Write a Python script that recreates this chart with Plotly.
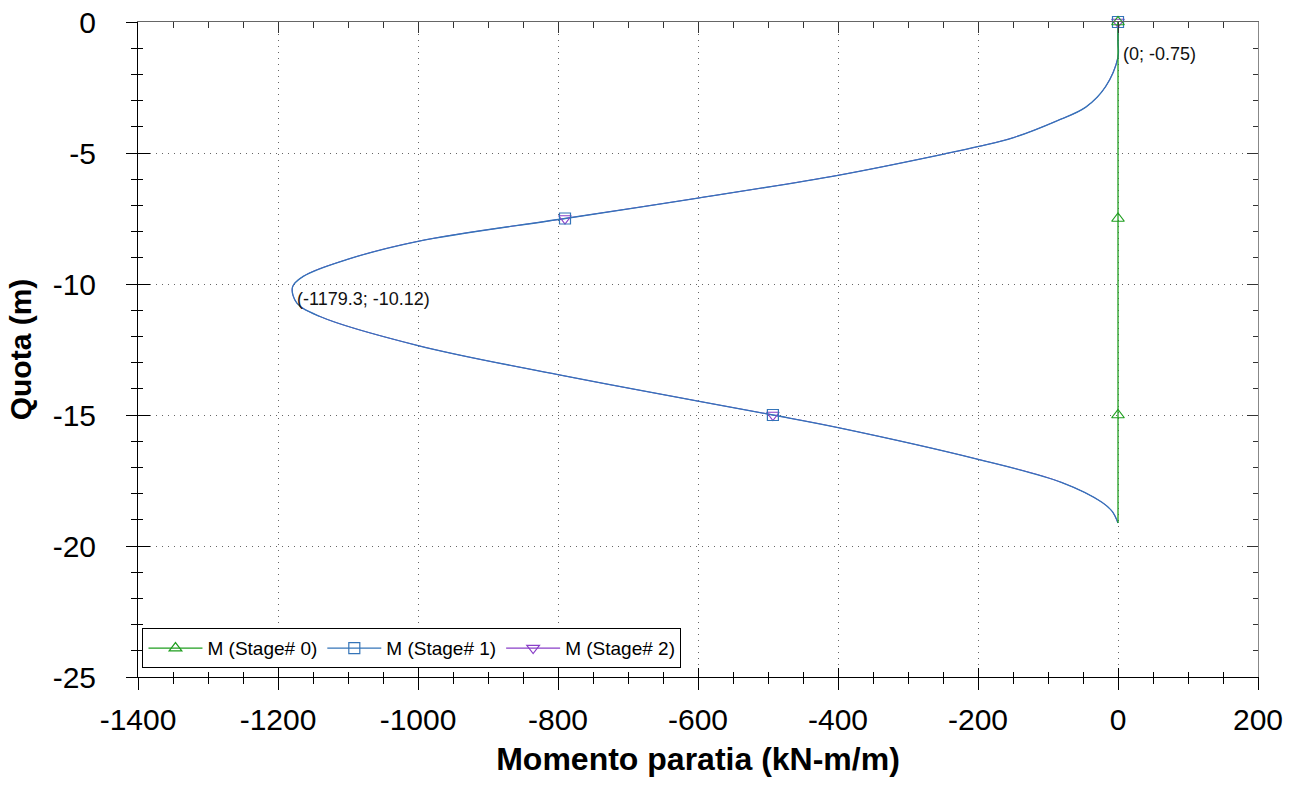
import plotly.graph_objects as go

# ---- data ----
stage0_z = [0, -7.5, -15, -19.12]
stage0_m = [0, 0, 0, 0]

stage1_z = [0, -0.75, -1.34, -2.48, -3.25, -3.78, -4.40, -4.75, -5.03, -5.85, -6.72,
            -7.5, -8.37, -9.07, -9.71, -10.12, -10.73, -11.24, -12.35, -13.46, -14.47,
            -15.0, -15.48, -16.69, -17.57, -18.33, -18.69, -19.12]
stage1_m = [0, 0, 0, -18, -46, -88, -148, -199, -247, -400, -600,
            -790, -1000, -1102, -1164, -1179.3, -1173, -1140, -1000, -800, -600,
            -493, -400, -200, -81, -23, -8, 0]
stage2_z = list(stage1_z)
stage2_m = list(stage1_m)

# depths at which the series markers are drawn
marker_depths = [0, -7.5, -15]
stage0_marker_m = [0, 0, 0]
stage1_marker_m = [0, -790, -493]
stage2_marker_m = [0, -790, -493]

series_names = ["M (Stage# 0)", "M (Stage# 1)", "M (Stage# 2)"]
annot_points = [(0, -0.75), (-1179.3, -10.12)]
annot_texts = ["(0; -0.75)", "(-1179.3; -10.12)"]

x_ticks = [-1400, -1200, -1000, -800, -600, -400, -200, 0, 200]
x_ticktext = ["-1400", "-1200", "-1000", "-800", "-600", "-400", "-200", "0", "200"]
y_ticks = [0, -5, -10, -15, -20, -25]
y_ticktext = ["0", "-5", "-10", "-15", "-20", "-25"]

x_range = [-1400, 200]
y_range = [-25, 0]

FONT = "Liberation Sans, Arial, sans-serif"
GREEN = "#1f9e1f"
BLUE = "#3474b8"
PURPLE = "#8a3fc8"
MS = 11
LW = 1.3

styles = [
    dict(color=GREEN, symbol="triangle-up-open"),
    dict(color=BLUE, symbol="square-open"),
    dict(color=PURPLE, symbol="triangle-down-open"),
]
lines = [(stage0_m, stage0_z), (stage1_m, stage1_z), (stage2_m, stage2_z)]
marks = [stage0_marker_m, stage1_marker_m, stage2_marker_m]

fig = go.Figure()
# draw order: stage 2 under stage 1 under stage 0
for i in [2, 1, 0]:
    st = styles[i]
    mx, mz = lines[i]
    fig.add_trace(go.Scatter(x=mx, y=mz, mode="lines", showlegend=False, hoverinfo="skip",
                             line=dict(color=st["color"], width=LW if i < 2 else 1.0,
                                       shape="spline" if i > 0 else "linear", smoothing=1.0)))
for i in [2, 1, 0]:
    st = styles[i]
    fig.add_trace(go.Scatter(x=marks[i], y=marker_depths, mode="markers", showlegend=False,
                             cliponaxis=False,
                             marker=dict(symbol=st["symbol"], size=MS, color=st["color"],
                                         line=dict(width=1.2, color=st["color"]))))
# legend entries
for i in [0, 1, 2]:
    st = styles[i]
    fig.add_trace(go.Scatter(x=[None], y=[None], mode="lines+markers", name=series_names[i],
                             line=dict(color=st["color"], width=LW),
                             marker=dict(symbol=st["symbol"], size=MS, color=st["color"],
                                         line=dict(width=1.2, color=st["color"]))))
# anchors for the extra tick axes (no data)
for xa, ya in [("x2", "y"), ("x3", "y"), ("x", "y2"), ("x", "y3")]:
    fig.add_trace(go.Scatter(x=[None], y=[None], xaxis=xa, yaxis=ya, showlegend=False,
                             mode="lines", hoverinfo="skip"))

for (ax, ay), t in zip(annot_points, annot_texts):
    fig.add_annotation(x=ax, y=ay, text=t, showarrow=False, xanchor="left", yanchor="top",
                       xshift=3, font=dict(family=FONT, size=18, color="#111"))

tickfont = dict(family=FONT, size=30, color="black")
common_x = dict(range=x_range, tickvals=x_ticks, ticktext=x_ticktext, zeroline=False, automargin=False)
common_y = dict(range=y_range, tickvals=y_ticks, ticktext=y_ticktext, zeroline=False, automargin=False)
GRID = dict(showgrid=True, gridcolor="#666", griddash="1px,5px", gridwidth=1)

fig.update_layout(
    width=1298, height=787,
    margin=dict(l=138, r=40, t=22, b=110),
    paper_bgcolor="white", plot_bgcolor="white",
    showlegend=True,
    legend=dict(orientation="h", x=0.004, y=0.044, xanchor="left", yanchor="middle",
                bordercolor="black", borderwidth=1, bgcolor="white",
                font=dict(family=FONT, size=19, color="black"),
                traceorder="normal", itemwidth=54, tracegroupgap=0),
    xaxis=dict(**common_x, **GRID,
               showline=True, linecolor="black", linewidth=1,
               ticks="outside", ticklen=12, tickcolor="black", tickwidth=1,
               minor=dict(dtick=50, tick0=0, ticks="outside", ticklen=6, tickcolor="black", showgrid=False),
               tickfont=tickfont, ticklabelstandoff=4,
               title=dict(text="<b>Momento paratia (kN-m/m)</b>", font=dict(family=FONT, size=32, color="black"), standoff=12)),
    yaxis=dict(**common_y, **GRID,
               showline=True, linecolor="black", linewidth=1,
               ticks="outside", ticklen=11, tickcolor="black", tickwidth=1,
               minor=dict(dtick=1, tick0=0, ticks="outside", ticklen=6, tickcolor="black", showgrid=False),
               tickfont=tickfont, ticklabelstandoff=24,
               title=dict(text="<b>Quota (m)</b>", font=dict(family=FONT, size=30, color="black"), standoff=12)),
    xaxis2=dict(**common_x, overlaying="x", side="bottom", anchor="y", showgrid=False, showticklabels=False,
                showline=False, ticks="inside", ticklen=9, tickcolor="black",
                minor=dict(dtick=50, tick0=0, ticks="inside", ticklen=5, tickcolor="black", showgrid=False)),
    xaxis3=dict(**common_x, overlaying="x", side="top", anchor="y", showgrid=False, showticklabels=False,
                showline=True, linecolor="#666", ticks="inside", ticklen=11, tickcolor="#333",
                minor=dict(dtick=50, tick0=0, ticks="inside", ticklen=6, tickcolor="#333", showgrid=False)),
    yaxis2=dict(**common_y, overlaying="y", side="left", anchor="x", showgrid=False, showticklabels=False,
                showline=False, ticks="inside", ticklen=12, tickcolor="black",
                minor=dict(dtick=1, tick0=0, ticks="inside", ticklen=5, tickcolor="black", showgrid=False)),
    yaxis3=dict(**common_y, overlaying="y", side="right", anchor="x", showgrid=False, showticklabels=False,
                showline=True, linecolor="#888", ticks="inside", ticklen=11, tickcolor="#333",
                minor=dict(dtick=1, tick0=0, ticks="inside", ticklen=5, tickcolor="#333", showgrid=False)),
)

fig.write_html("out.html")
